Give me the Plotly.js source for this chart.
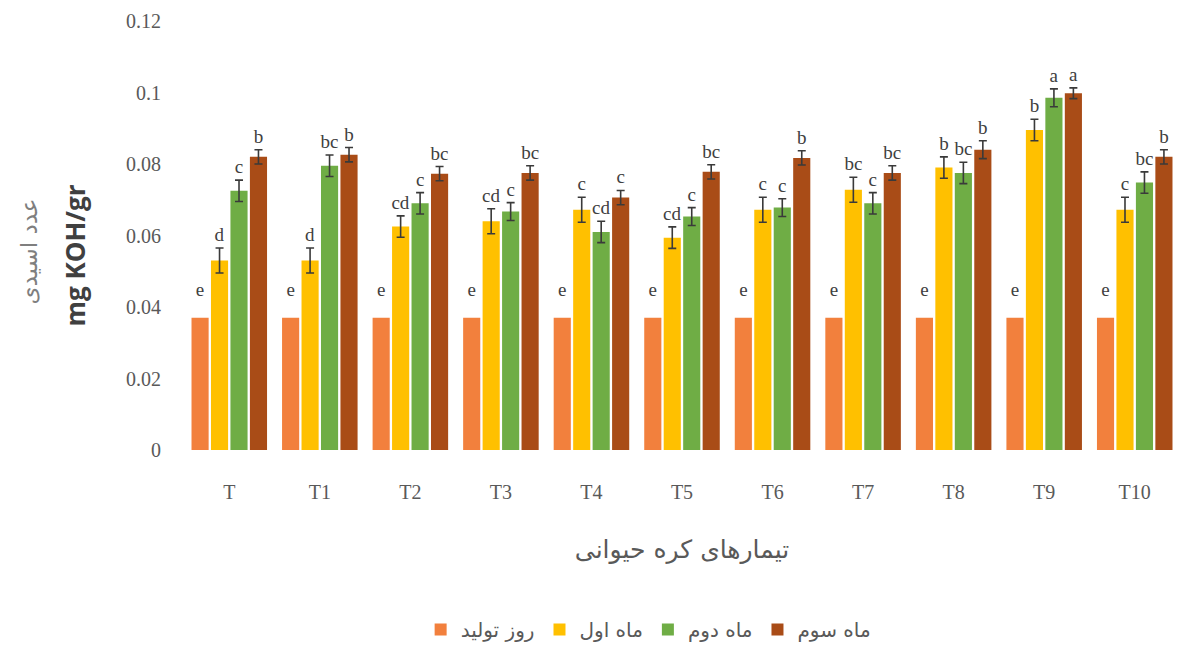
<!DOCTYPE html>
<html>
<head>
<meta charset="utf-8">
<script src="https://cdn.plot.ly/plotly-3.0.1.min.js"></script>
<style>html,body{margin:0;padding:0;background:#fff;}#chart{width:1180px;height:649px;}</style>
</head>
<body>
<div id="chart"></div>
<script>
const categories = ['T','T1','T2','T3','T4','T5','T6','T7','T8','T9','T10'];
const seriesNames = ['روز تولید','ماه اول','ماه دوم','ماه سوم'];

const valDay0   = [0.037,0.037,0.037,0.037,0.037,0.037,0.037,0.037,0.037,0.037,0.037];
const valMonth1 = [0.053,0.053,0.0625,0.064,0.0672,0.0594,0.0672,0.0728,0.079,0.0895,0.0672];
const valMonth2 = [0.0725,0.0795,0.069,0.0667,0.061,0.0653,0.0678,0.069,0.0775,0.0985,0.0748];
const valMonth3 = [0.082,0.0826,0.0773,0.0775,0.0706,0.0778,0.0817,0.0775,0.084,0.0998,0.082];

const errDay0   = [0.004,0.004,0.004,0.004,0.004,0.004,0.004,0.004,0.004,0.004,0.004];
const errMonth1 = [0.0035,0.0035,0.003,0.0035,0.0035,0.003,0.0035,0.0035,0.003,0.003,0.0035];
const errMonth2 = [0.003,0.003,0.003,0.0025,0.003,0.0025,0.0025,0.003,0.003,0.0025,0.003];
const errMonth3 = [0.002,0.002,0.002,0.002,0.002,0.002,0.002,0.002,0.0025,0.0015,0.002];

const letDay0   = ['e','e','e','e','e','e','e','e','e','e','e'];
const letMonth1 = ['d','d','cd','cd','c','cd','c','bc','b','b','c'];
const letMonth2 = ['c','bc','c','c','cd','c','c','c','bc','a','bc'];
const letMonth3 = ['b','b','bc','bc','c','bc','b','bc','b','a','b'];

const colors = ['#F2803D','#FFC000','#6FAD45','#A94C17'];
const vals = [valDay0,valMonth1,valMonth2,valMonth3];
const errs = [errDay0,errMonth1,errMonth2,errMonth3];
const lets = [letDay0,letMonth1,letMonth2,letMonth3];

const serif = 'Liberation Serif, DejaVu Serif, serif';
const traces = [];
for (let i = 0; i < 4; i++) {
  traces.push({
    type:'bar', x:categories, y:vals[i], name:seriesNames[i],
    offsetgroup:'g'+i, marker:{color:colors[i]},
    error_y:{type:'data', array:errs[i], visible: i>0, color:'#3a3a3a', thickness:1.6, width:4},
    hoverinfo:'y'
  });
}
for (let i = 0; i < 4; i++) {
  traces.push({
    type:'bar', x:categories, y:vals[i].map((v,k)=>v+errs[i][k]), showlegend:false,
    offsetgroup:'g'+i, marker:{color:'rgba(0,0,0,0)'},
    text:lets[i], textposition:'outside', constraintext:'none', cliponaxis:false,
    textfont:{family:serif, size:19, color:'#404040'},
    hoverinfo:'skip'
  });
}

const layout = {
  width:1180, height:649,
  margin:{l:184, r:0, t:21, b:198},
  paper_bgcolor:'#ffffff', plot_bgcolor:'#ffffff',
  barmode:'group', bargap:0.14, bargroupgap:0.12,
  showlegend:true,
  legend:{orientation:'h', x:0.466, xanchor:'center', y:-0.42, yanchor:'middle',
          font:{family:'DejaVu Sans, sans-serif', size:20, color:'#595959'}, traceorder:'normal'},
  xaxis:{showgrid:false, zeroline:false, showline:false, ticks:'',
         tickfont:{family:serif, size:20, color:'#595959'},
         ticklabelstandoff:28,
         title:{text:'تیمارهای کره حیوانی', standoff:38,
                font:{family:'DejaVu Sans, sans-serif', size:25, color:'#595959'}}},
  yaxis:{range:[0,0.12], dtick:0.02, showgrid:false, zeroline:false, showline:false, ticks:'',
         tickfont:{family:serif, size:20, color:'#595959'},
         ticklabelstandoff:22},
  annotations:[
    {text:'عدد اسیدی', xref:'paper', yref:'paper', x:0, y:0.5, xanchor:'center', yanchor:'middle',
     xshift:-156, yshift:-16, textangle:-90, showarrow:false,
     font:{family:'DejaVu Sans, sans-serif', size:23, color:'#7f7f7f'}},
    {text:'<b>mg KOH/gr</b>', xref:'paper', yref:'paper', x:0, y:0.5, xanchor:'center', yanchor:'middle',
     xshift:-110, yshift:-20, textangle:-90, showarrow:false,
     font:{family:'Open Sans, DejaVu Sans, sans-serif', size:26, color:'#404040'}}
  ]
};

Plotly.newPlot('chart', traces, layout, {displayModeBar:false, staticPlot:true});
</script>
</body>
</html>
